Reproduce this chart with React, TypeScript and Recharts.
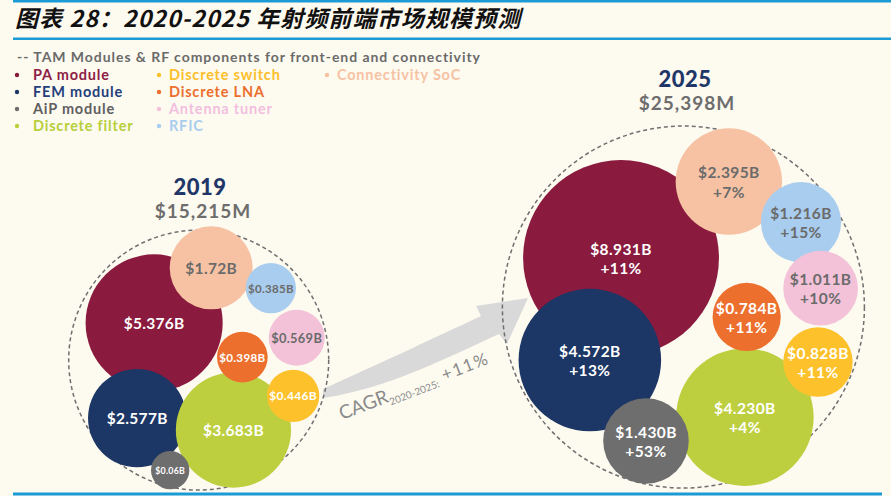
import { ScatterChart, Scatter, XAxis, YAxis, ZAxis, ReferenceDot } from 'recharts'

// draw order: big bubbles first so the small ones sit on top
const categories = [
    'PA module',
    'FEM module',
    'Discrete filter',
    'AiP module',
    'Connectivity SoC',
    'RFIC',
    'Antenna tuner',
    'Discrete LNA',
    'Discrete switch',
]

const value2019 = [5.376, 2.577, 3.683, 0.06, 1.72, 0.385, 0.569, 0.398, 0.446]
const label2019 = ['$5.376B', '$2.577B', '$3.683B', '$0.06B', '$1.72B', '$0.385B', '$0.569B', '$0.398B', '$0.446B']

const value2025 = [8.931, 4.572, 4.23, 1.43, 2.395, 1.216, 1.011, 0.784, 0.828]
const label2025 = ['$8.931B', '$4.572B', '$4.230B', '$1.430B', '$2.395B', '$1.216B', '$1.011B', '$0.784B', '$0.828B']
const growth2025 = ['+11%', '+13%', '+4%', '+53%', '+7%', '+15%', '+10%', '+11%', '+11%']

// packed-bubble layout, in 0-100 chart units
const packX2019 = [17.3, 15.4, 26.2, 19.1, 23.7, 30.4, 33.3, 27.2, 32.9]
const packY2019 = [65.1, 84.3, 86.7, 94.8, 54.0, 58.1, 68.1, 72.0, 79.8]
const packX2025 = [69.7, 66.2, 83.6, 72.5, 81.8, 89.9, 92.1, 83.8, 91.8]
const packY2025 = [52.0, 72.6, 84.1, 88.9, 36.6, 44.8, 58.1, 63.9, 73.0]

const totals = { y2019: '$15,215M', y2025: '$25,398M' }
const cagrText = '+11%'

const legendCols = [
    ['PA module', 'FEM module', 'AiP module', 'Discrete filter'],
    ['Discrete switch', 'Discrete LNA', 'Antenna tuner', 'RFIC'],
    ['Connectivity SoC'],
]

const COLOURS: Record<string, string> = {
    'PA module': '#8a1a3e',
    'FEM module': '#1c3665',
    'AiP module': '#6e6e6e',
    'Discrete filter': '#bdcf3f',
    'Discrete switch': '#fdc22b',
    'Discrete LNA': '#ec6f2d',
    'Antenna tuner': '#f3c2d8',
    RFIC: '#a9cdef',
    'Connectivity SoC': '#f6c2a3',
}
const LEGEND_TEXT: Record<string, string> = {
    ...COLOURS,
    'PA module': '#8e1d45',
    'FEM module': '#24407a',
    'AiP module': '#606060',
    'Discrete filter': '#b6cf3a',
    'Discrete switch': '#fbc02a',
    'Antenna tuner': '#f2bfe0',
}
const GREY_LABEL = new Set(['Connectivity SoC', 'RFIC', 'Antenna tuner'])

const BLUE = '#1a9ad6'
const BG = '#fdfaf0'
const FONT = 'Lato, "Open Sans", sans-serif'

const points2019 = categories.map((name, i) => ({
    name,
    x: packX2019[i],
    y: packY2019[i],
    z: value2019[i],
    label: label2019[i],
    growth: null as string | null,
}))
const points2025 = categories.map((name, i) => ({
    name,
    x: packX2025[i],
    y: packY2025[i],
    z: value2025[i],
    label: label2025[i],
    growth: growth2025[i],
}))

const Bubble = (props: any) => {
    const { cx, cy, payload } = props
    const r = props.width ? props.width / 2 : Math.sqrt(props.size / Math.PI)
    const fs = Math.max(7.5, Math.min(15.5, r * 0.46))
    const textColour = GREY_LABEL.has(payload.name) ? '#6b6b6b' : '#ffffff'
    return (
        <g>
            <circle cx={cx} cy={cy} r={r} fill={COLOURS[payload.name]} />
            {payload.growth ? (
                <text
                    x={cx}
                    textAnchor="middle"
                    fill={textColour}
                    fontSize={fs}
                    fontWeight={700}
                    fontFamily={FONT}
                    letterSpacing={0.4}
                >
                    <tspan x={cx} y={cy - fs * 0.6} dominantBaseline="central">
                        {payload.label}
                    </tspan>
                    <tspan x={cx} y={cy + fs * 0.65} dominantBaseline="central">
                        {payload.growth}
                    </tspan>
                </text>
            ) : (
                <text
                    x={cx}
                    y={cy}
                    textAnchor="middle"
                    dominantBaseline="central"
                    fill={textColour}
                    fontSize={fs}
                    fontWeight={700}
                    fontFamily={FONT}
                    letterSpacing={0.3}
                >
                    {payload.label}
                </text>
            )}
        </g>
    )
}

const Backdrop = () => (
    <svg width={891} height={496} style={{ position: 'absolute', left: 0, top: 0 }}>
        <rect x={13} y={0} width={878} height={2.5} fill={BLUE} />
        <rect x={13} y={37.5} width={878} height={2.5} fill={BLUE} />
        <rect x={13} y={492.5} width={869} height={3} fill={BLUE} />
        <text
            x={15}
            y={27}
            fontSize={23}
            fontWeight={700}
            fontStyle="italic"
            fontFamily='"Noto Sans CJK SC", sans-serif'
            fill="#111"
            letterSpacing={1.1}
        >
            图表 28：2020-2025 年射频前端市场规模预测
        </text>

        <text
            x={17}
            y={62}
            fontSize={14}
            fontWeight={700}
            fontFamily={FONT}
            fill="#6a6a6a"
            letterSpacing={0.95}
        >
            -- TAM Modules &amp; RF components for front-end and connectivity
        </text>
        {legendCols.map((col, ci) =>
            col.map((name, ri) => {
                const dx = [17, 159, 327][ci]
                const cy = 75 + ri * 17
                return (
                    <g key={name}>
                        <circle cx={dx} cy={cy} r={2.2} fill={COLOURS[name]} />
                        <text
                            x={dx + (ci === 0 ? 16 : 10)}
                            y={cy + 5}
                            fontSize={14.5}
                            fontWeight={700}
                            fontFamily={FONT}
                            fill={LEGEND_TEXT[name]}
                            letterSpacing={0.8}
                        >
                            {name}
                        </text>
                    </g>
                )
            })
        )}

        <text x={200} y={195} textAnchor="middle" fontSize={22} fontWeight={900} fontFamily={FONT} fill="#1f3768" letterSpacing={0.5}>
            2019
        </text>
        <text x={203} y={218} textAnchor="middle" fontSize={19} fontWeight={700} fontFamily={FONT} fill="#6d6d6d" letterSpacing={1}>
            {totals.y2019}
        </text>
        <text x={685} y={87} textAnchor="middle" fontSize={22} fontWeight={900} fontFamily={FONT} fill="#1f3768" letterSpacing={0.5}>
            2025
        </text>
        <text x={687} y={110} textAnchor="middle" fontSize={19} fontWeight={700} fontFamily={FONT} fill="#6d6d6d" letterSpacing={1}>
            {totals.y2025}
        </text>

        <path
            d="M323,389 C370,368 430,340 481,316 L476,306 L528,298 L507,344 L499,334 C450,356 390,388 323,398 Z"
            fill="#d9d9d9"
        />
        <g transform="translate(342,420) rotate(-21)">
            <text x={0} y={0} fontFamily={FONT} fill="#8a8a8a">
                <tspan fontSize={19}>CAGR</tspan>
                <tspan fontSize={10} dy={4}>2020-2025:</tspan>
                <tspan fontSize={17} dy={-4} dx={6} letterSpacing={1.5}>
                    {cagrText}
                </tspan>
            </text>
        </g>
    </svg>
)

export default function App() {
    return (
        <div style={{ position: 'relative', width: 891, height: 496, background: BG, overflow: 'hidden' }}>
            <style>{'body{margin:0}'}</style>
            <Backdrop />
            <div style={{ position: 'absolute', left: 0, top: 0 }}>
                <ScatterChart width={891} height={496} margin={{ top: 0, right: 0, bottom: 0, left: 0 }}>
                    <XAxis type="number" dataKey="x" domain={[0, 100]} hide />
                    <YAxis type="number" dataKey="y" domain={[0, 100]} reversed hide />
                    <ZAxis zAxisId="z19" type="number" dataKey="z" domain={[0, 10]} range={[1000, 26600]} />
                    <ZAxis zAxisId="z25" type="number" dataKey="z" domain={[0, 10]} range={[1100, 33600]} />
                    <ReferenceDot
                        x={22.3}
                        y={72.6}
                        r={130}
                        fill="none"
                        stroke="#6f6f6f"
                        strokeWidth={1.5}
                        strokeDasharray="4 3"
                        ifOverflow="visible"
                    />
                    <ReferenceDot
                        x={76.7}
                        y={61.9}
                        r={181}
                        fill="none"
                        stroke="#6f6f6f"
                        strokeWidth={1.5}
                        strokeDasharray="4 3"
                        ifOverflow="visible"
                    />
                    <Scatter data={points2019} zAxisId="z19" shape={Bubble} isAnimationActive={false} />
                    <Scatter data={points2025} zAxisId="z25" shape={Bubble} isAnimationActive={false} />
                </ScatterChart>
            </div>
        </div>
    )
}
